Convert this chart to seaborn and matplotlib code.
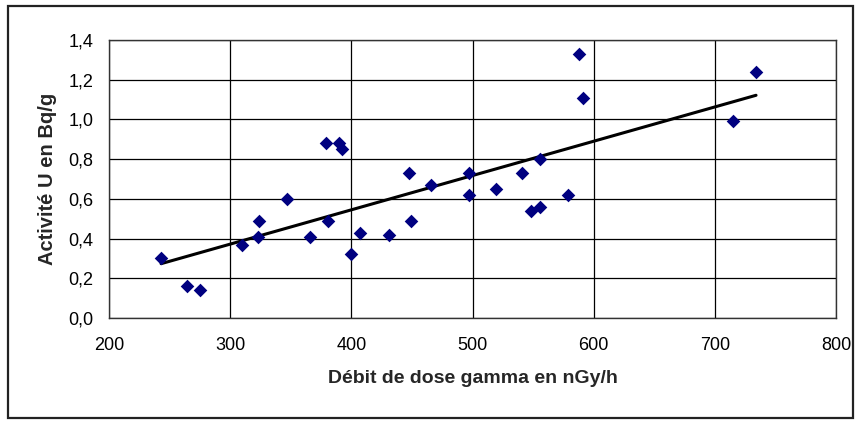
import matplotlib
matplotlib.use("Agg")
import numpy as np
import pandas as pd
import matplotlib.pyplot as plt
import seaborn as sns
from matplotlib.patches import Rectangle
from matplotlib.ticker import FuncFormatter

# Gamma dose rate (nGy/h) vs uranium activity (Bq/g)
dose_rate = [243, 264, 275, 310, 323, 324, 347, 366, 379, 381, 390, 392, 400,
             407, 431, 448, 449, 466, 497, 497, 519, 541, 548, 556, 556, 579,
             588, 591, 715, 734]
activity_u = [0.30, 0.16, 0.14, 0.37, 0.41, 0.49, 0.60, 0.41, 0.88, 0.49, 0.88,
              0.85, 0.32, 0.43, 0.42, 0.73, 0.49, 0.67, 0.73, 0.62, 0.65, 0.73,
              0.54, 0.56, 0.80, 0.62, 1.33, 1.11, 0.99, 1.24]

data = pd.DataFrame({"dose": dose_rate, "activite": activity_u})

sns.set_style("white")
plt.rcParams["font.family"] = ["Liberation Sans", "DejaVu Sans"]

fig = plt.figure(figsize=(8.6, 4.21), dpi=100)
ax = fig.add_axes([109 / 860, 1 - 318 / 421, (836 - 109) / 860, (318 - 40) / 421])

# trend line (least squares), black
sns.regplot(x="dose", y="activite", data=data, ax=ax, ci=None, scatter=False,
            line_kws={"color": "black", "lw": 2.2, "zorder": 3})
sns.scatterplot(x="dose", y="activite", data=data, ax=ax, marker="D", s=48,
                color="#000080", edgecolor="#000080", linewidth=0, zorder=4)

ax.set_xlim(200, 800)
ax.set_ylim(0, 1.4)
ax.set_xticks(np.arange(200, 801, 100))
ax.set_yticks(np.arange(0, 1.41, 0.2))
ax.yaxis.set_major_formatter(FuncFormatter(lambda v, p: f"{v:.1f}".replace(".", ",")))
ax.grid(True, color="black", lw=0.9)
ax.set_axisbelow(True)
for s in ax.spines.values():
    s.set_color("#333333")
    s.set_linewidth(1)
ax.tick_params(axis="both", direction="out", length=5, width=0.9, color="black",
               labelsize=13, labelcolor="black")
ax.tick_params(axis="y", pad=6)
ax.tick_params(axis="x", pad=9)
ax.set_xlabel("Débit de dose gamma en nGy/h", fontsize=14, fontweight="bold", labelpad=11)
ax.set_ylabel("Activité U en Bq/g", fontsize=14.5, fontweight="bold", labelpad=8)

# outer chart border
fig.patches.append(Rectangle((8 / 860, 3 / 421), 845 / 860, 412 / 421,
                             transform=fig.transFigure, fill=False,
                             edgecolor="#222222", lw=1.6))

fig.savefig("out.png", dpi=100)
